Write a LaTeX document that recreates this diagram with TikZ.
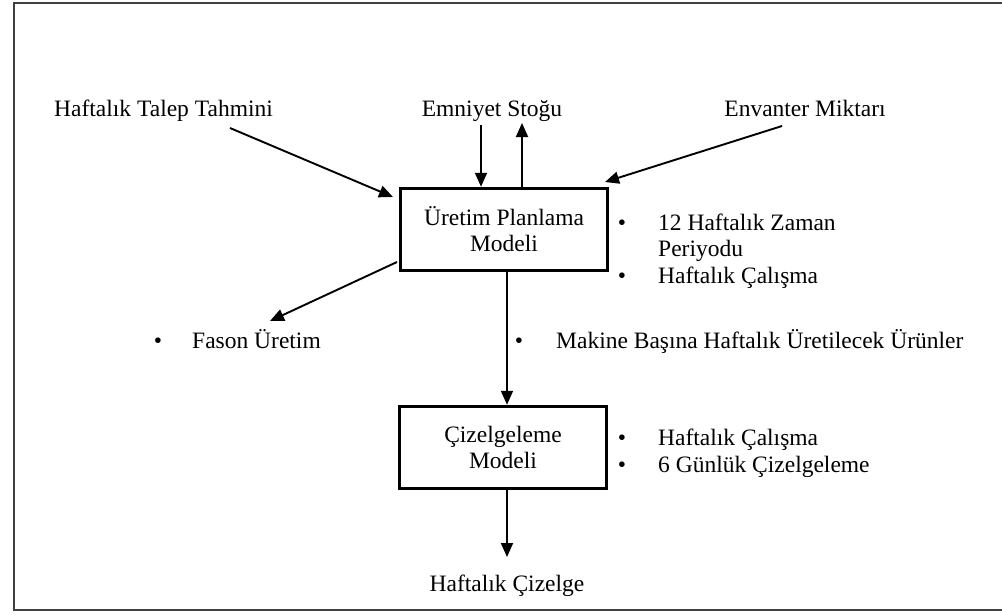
\documentclass[tikz,border=0pt]{standalone}
\usepackage{fontspec}
\setmainfont{Liberation Serif}
\usetikzlibrary{arrows.meta}
\begin{document}
\begin{tikzpicture}[x=1pt,y=-1pt,
  txt/.style={font=\fontsize{23.5}{28}\selectfont, inner sep=0pt},
  modelbox/.style={draw, line width=3.5pt, minimum width=207pt, minimum height=82pt, align=center, inner sep=0pt, font=\fontsize{23.5}{26}\selectfont},
  conn/.style={line width=1.9pt, -{Triangle[length=14pt,width=12pt]}},
  frame/.style={line width=1.6pt, draw=black!75}]
\useasboundingbox (0,0) rectangle (1002,614);
% frame (right side cut off)
\draw[frame] (1002,3) -- (14,3) -- (14,610) -- (1002,610);
% model boxes
\node[modelbox] (upm) at (504,229.5) {Üretim Planlama\\Modeli};
\node[modelbox] (cm) at (503,447.5) {Çizelgeleme\\Modeli};
% top inputs
\node[txt, anchor=base] (talep) at (163.5,116) {Haftalık Talep Tahmini};
\node[txt, anchor=base] (emn) at (492,116) {Emniyet Stoğu};
\node[txt, anchor=base] (env) at (805,116) {Envanter Miktarı};
\coordinate (talepS) at (230,128);
\coordinate (talepT) at (393,197);
\coordinate (envS) at (782,126);
\coordinate (envT) at (605,182);
\coordinate (emnIn) at (481,125);
\coordinate (emnOut) at (522,123);
\coordinate (fasonT) at (270,321);
\coordinate (upmFason) at (397,262);
\draw[conn] (talepS) -- (talepT);
\draw[conn] (envS) -- (envT);
\draw[conn] (emnIn) -- (emnIn |- upm.north);
\draw[conn] (emnOut |- upm.north) -- (emnOut);
\draw[conn] (upmFason) -- (fasonT);
% fason
\node[txt, anchor=base] (fb) at (158,348) {•};
\node[txt, anchor=base west] (fason) at (192,348) {Fason Üretim};
% right of upper box
\node[txt, anchor=base] (b1) at (622,230) {•};
\node[txt, anchor=base west] (l1) at (658,230) {12 Haftalık Zaman};
\node[txt, anchor=base west] (l2) at (658,256) {Periyodu};
\node[txt, anchor=base] (b2) at (622,283) {•};
\node[txt, anchor=base west] (l3) at (658,283) {Haftalık Çalışma};
% middle
\draw[conn] (upm.south -| 507,0) -- (cm.north -| 507,0);
\node[txt, anchor=base] (b3) at (519,348) {•};
\node[txt, anchor=base west] (mak) at (556,348) {Makine Başına Haftalık Üretilecek Ürünler};
% right of lower box
\node[txt, anchor=base] (b4) at (622,445) {•};
\node[txt, anchor=base west] (l4) at (658,445) {Haftalık Çalışma};
\node[txt, anchor=base] (b5) at (622,472) {•};
\node[txt, anchor=base west] (l5) at (658,472) {6 Günlük Çizelgeleme};
% output
\node[txt, anchor=base] (out) at (507,591) {Haftalık Çizelge};
\draw[conn] (cm.south -| 507,0) -- (507,557);
\end{tikzpicture}
\end{document}
